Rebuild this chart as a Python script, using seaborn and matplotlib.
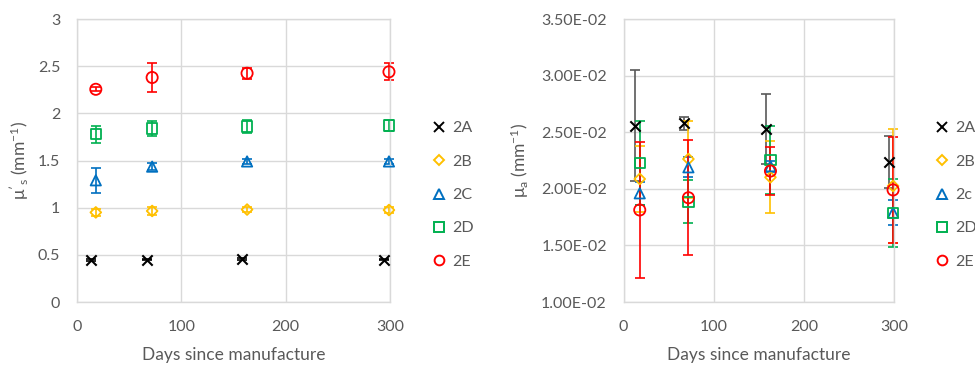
import matplotlib
matplotlib.use("Agg")
import matplotlib.pyplot as plt
import matplotlib.ticker as mticker
import numpy as np
import pandas as pd
import seaborn as sns

# Sample labels and styling
samples_left = ["2A", "2B", "2C", "2D", "2E"]
samples_right = ["2A", "2B", "2c", "2D", "2E"]
colors = ["#000000", "#FFC000", "#0070C0", "#00B050", "#FF0000"]
markers = ["x", "D", "^", "s", "o"]

# Measurement days (2A measured slightly earlier than the other phantoms)
days_2a = [13, 67, 158, 294]
days_other = [18, 72, 163, 299]

# Reduced scattering coefficient mu's (mm^-1) and standard deviations
mus_2a = [0.445, 0.45, 0.455, 0.45]
mus_2a_err = [0.01, 0.01, 0.01, 0.01]
mus_2b = [0.95, 0.965, 0.98, 0.975]
mus_2b_err = [0.04, 0.04, 0.03, 0.03]
mus_2c = [1.29, 1.435, 1.49, 1.49]
mus_2c_err = [0.13, 0.04, 0.03, 0.03]
mus_2d = [1.78, 1.84, 1.86, 1.87]
mus_2d_err = [0.09, 0.08, 0.07, 0.06]
mus_2e = [2.255, 2.38, 2.425, 2.44]
mus_2e_err = [0.02, 0.15, 0.06, 0.09]

# Absorption coefficient mu_a (mm^-1) and standard deviations
mua_2a = [0.02557, 0.02578, 0.02525, 0.02234]
mua_2a_err = [0.0049, 0.0006, 0.0031, 0.0023]
mua_2b = [0.02087, 0.02263, 0.02102, 0.02025]
mua_2b_err = [0.0029, 0.0034, 0.0032, 0.0050]
mua_2c = [0.0196, 0.0219, 0.0220, 0.01789]
mua_2c_err = [0.0010, 0.0009, 0.0005, 0.0011]
mua_2d = [0.0223, 0.01886, 0.02254, 0.01784]
mua_2d_err = [0.0037, 0.0019, 0.0030, 0.0030]
mua_2e = [0.01813, 0.01921, 0.02157, 0.0199]
mua_2e_err = [0.0060, 0.0051, 0.00215, 0.0047]

mus_vals = [mus_2a, mus_2b, mus_2c, mus_2d, mus_2e]
mus_errs = [mus_2a_err, mus_2b_err, mus_2c_err, mus_2d_err, mus_2e_err]
mua_vals = [mua_2a, mua_2b, mua_2c, mua_2d, mua_2e]
mua_errs = [mua_2a_err, mua_2b_err, mua_2c_err, mua_2d_err, mua_2e_err]

sns.set_theme(style="white")
plt.rcParams["font.family"] = ["Lato", "DejaVu Sans"]
plt.rcParams["mathtext.fontset"] = "custom"
plt.rcParams["mathtext.rm"] = "Lato"
plt.rcParams["mathtext.it"] = "Lato"
plt.rcParams["mathtext.default"] = "regular"

TXT = "#595959"
GRID = "#D9D9D9"

fig = plt.figure(figsize=(9.75, 3.65), dpi=100)
ax1 = fig.add_axes([0.079, 0.1726, 0.321, 0.7753])
ax2 = fig.add_axes([0.6395, 0.1726, 0.2774, 0.7753])

marker_sizes = {"x": 55, "D": 30, "^": 55, "s": 55, "o": 65}


def draw_panel(ax, labels, vals, errs, err_colors):
    handles = []
    for i, lab in enumerate(labels):
        days = days_2a if i == 0 else days_other
        df = pd.DataFrame({"day": days, "val": vals[i]})
        ax.errorbar(df["day"], df["val"], yerr=errs[i], fmt="none",
                    ecolor=err_colors[i], elinewidth=1.2, capsize=3.5,
                    capthick=1.2, clip_on=False, zorder=2)
        m = markers[i]
        if m == "x":
            sns.scatterplot(data=df, x="day", y="val", ax=ax, marker=m,
                            color=colors[i], s=marker_sizes[m], linewidth=1.5,
                            clip_on=False, zorder=3)
        else:
            sns.scatterplot(data=df, x="day", y="val", ax=ax, marker=m,
                            facecolor="none", edgecolor=colors[i],
                            s=marker_sizes[m], linewidth=1.3,
                            clip_on=False, zorder=3)
        h = plt.Line2D([], [], linestyle="none", marker=m,
                       markersize=7 if m != "D" else 5.5,
                       markerfacecolor="none" if m != "x" else colors[i],
                       markeredgecolor=colors[i], markeredgewidth=1.4,
                       label=lab)
        handles.append(h)
    ax.set_xlim(0, 300)
    ax.set_xticks([0, 100, 200, 300])
    ax.grid(True, color=GRID, linewidth=1.0)
    ax.set_axisbelow(True)
    for sp in ax.spines.values():
        sp.set_color(GRID)
        sp.set_linewidth(1.0)
    ax.tick_params(axis="both", length=0, labelsize=11.5, colors=TXT)
    ax.tick_params(axis="x", pad=13)
    ax.set_xlabel("Days since manufacture", fontsize=12.5, color=TXT,
                  labelpad=9)
    return handles


h1 = draw_panel(ax1, samples_left, mus_vals, mus_errs,
                ["#000000"] + colors[1:])
ax1.set_ylim(0, 3)
ax1.set_yticks(np.arange(0, 3.01, 0.5))
ax1.yaxis.set_major_formatter(mticker.FuncFormatter(lambda v, p: f"{v:g}"))
ax1.tick_params(axis="y", pad=12)
ax1.set_ylabel(r"$\mu'_{s}$ (mm$^{-1}$)", fontsize=12.5, color=TXT,
               labelpad=5)

h2 = draw_panel(ax2, samples_right, mua_vals, mua_errs,
                ["#595959"] + colors[1:])
ax2.set_ylim(0.01, 0.035)
ax2.set_yticks(np.arange(0.01, 0.03501, 0.005))
ax2.yaxis.set_major_formatter(mticker.FuncFormatter(lambda v, p: f"{v:.2E}"))
ax2.tick_params(axis="y", pad=12)
ax2.set_ylabel(r"$\mu_{a}$ (mm$^{-1}$)", fontsize=12.5, color=TXT,
               labelpad=7)

leg_kw = dict(loc="center left", frameon=False, fontsize=11.5,
              labelcolor=TXT, handlelength=0.8, handletextpad=0.4,
              labelspacing=1.2, borderpad=0, borderaxespad=0)
fig.legend(handles=h1, bbox_to_anchor=(433 / 975, 1 - 195 / 365), **leg_kw)
fig.legend(handles=h2, bbox_to_anchor=(936 / 975, 1 - 195 / 365), **leg_kw)

fig.savefig("out.png", dpi=100)
